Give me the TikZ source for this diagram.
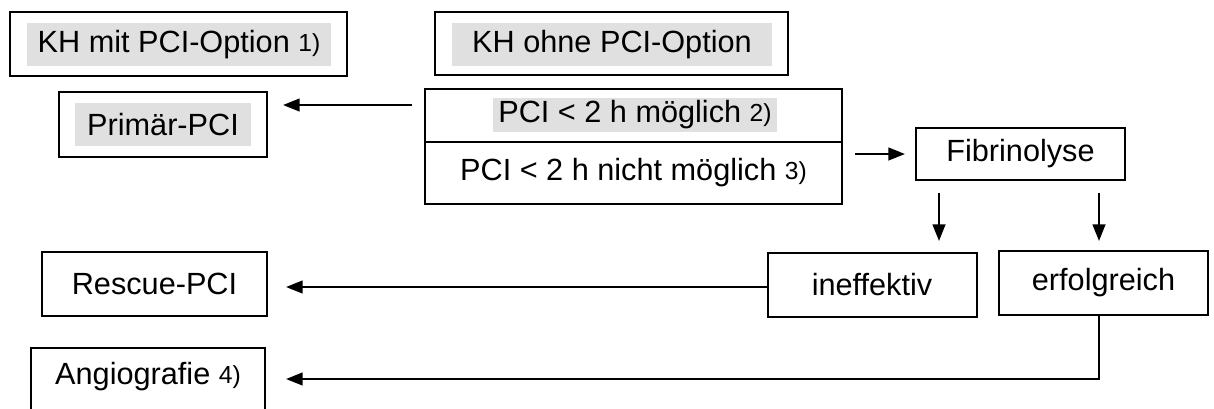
\documentclass[tikz,border=0pt]{standalone}
\usepackage{fontspec}
\setmainfont{Liberation Sans}
\usetikzlibrary{arrows.meta,calc}
\definecolor{hlgrey}{HTML}{E0E0E0}
% footnote marks set a size smaller on (nearly) the same baseline
\newcommand\fnmark[1]{\raisebox{0.8pt}{\fontsize{18.5}{18.5}\selectfont #1}}
\begin{document}
\begin{tikzpicture}[x=0.75pt,y=-0.75pt,
  wh/.style 2 args={minimum width=#1*0.75pt,minimum height=#2*0.75pt},
  boxnode/.style={draw,line width=1.5pt,inner sep=0pt,outer sep=0pt,
    font=\fontsize{23}{27}\selectfont},
  hlnode/.style={fill=hlgrey,inner sep=0pt,outer sep=0pt,
    font=\fontsize{23}{27}\selectfont},
  arr/.style={line width=1.7pt,-{Triangle[length=12.5pt,width=9.5pt]}},
  conn/.style={line width=1.7pt}]
\useasboundingbox (0,0) rectangle (1214,408);

% hospital types
\node[boxnode,wh={337}{64}] (kh1) at (178.5,44) {};
\node[hlnode,wh={304}{43}] (kh1t) at (179,44.5) {KH mit PCI-Option \fnmark{1)}};
\node[boxnode,wh={353}{63}] (kh2) at (611.5,43.5) {};
\node[hlnode,wh={320}{43}] (kh2t) at (612,44.5) {KH ohne PCI-Option};

% primary PCI
\node[boxnode,wh={208}{65}] (prim) at (163,124.5) {};
\node[hlnode,wh={176}{43}] (primt) at (163,124.5) {Primär-PCI};

% time window decision
\node[boxnode,wh={417}{53}] (pciA) at (633.5,115.5) {};
\node[hlnode,wh={284}{34}] (pciAt) at (635,115) {PCI < 2 h möglich \fnmark{2)}};
\node[boxnode,wh={417}{62}] (pciB) at (633.5,173) {PCI < 2 h nicht möglich \fnmark{3)}};

% fibrinolysis and its outcomes
\node[boxnode,wh={209}{52}] (fib) at (1020.5,154) {Fibrinolyse};
\node[boxnode,wh={209}{64}] (ineff) at (872,285) {ineffektiv};
\node[boxnode,wh={209}{64}] (erf) at (1103.5,283) {erfolgreich};

% follow-up procedures
\node[boxnode,wh={225}{64}] (resc) at (154.5,284) {Rescue-PCI};
\node[boxnode,wh={234}{72}] (angio) at (148,384) {};
\node[font=\fontsize{23}{27}\selectfont,inner sep=0pt] (angiot) at (148,377) {Angiografie \fnmark{4)}};

% connectors
\draw[arr] ($(pciA.west)+(-13,-10.5)$) -- ($(prim.east)+(16,-19.5)$);
\draw[arr] ($(pciB.east |- fib.west)+(13,0)$) -- ($(fib.west)+(-11,0)$);
\draw[arr] ($(fib.south west)+(23,13)$) -- ($(fib.south west)+(23,61)$);
\draw[arr] ($(fib.south east)+(-26,13)$) -- ($(fib.south east)+(-26,61)$);
\draw[arr] ($(ineff.west)+(0,2)$) -- ($(resc.east |- ineff.west)+(19,2)$);
\draw[conn] ($(erf.south)+(-4.5,0)$) -- ($(erf.south)+(-4.5,64)$) coordinate (bend);
\draw[arr] ($(bend)+(0.8,0)$) -- ($(angio.east |- bend)+(21,0)$);
\end{tikzpicture}
\end{document}
